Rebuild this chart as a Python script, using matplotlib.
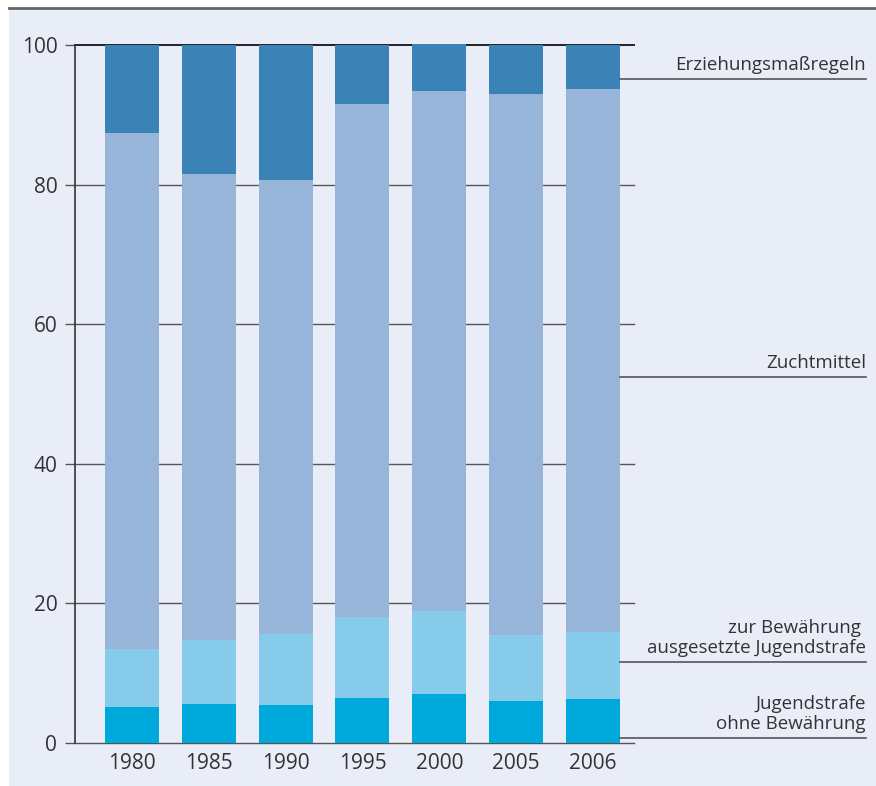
import matplotlib
matplotlib.use("Agg")
import matplotlib.pyplot as plt
from matplotlib.patches import Rectangle
from matplotlib.lines import Line2D

years = ["1980", "1985", "1990", "1995", "2000", "2005", "2006"]
ohne_bewaehrung = [5.1, 5.6, 5.4, 6.4, 7.0, 6.0, 6.3]
zur_bewaehrung = [8.4, 9.2, 10.2, 11.6, 11.9, 9.5, 9.6]
zuchtmittel = [73.9, 66.7, 65.1, 73.5, 74.5, 77.5, 77.8]
erziehung = [12.6, 18.5, 19.3, 8.5, 6.8, 7.0, 6.3]

series = [ohne_bewaehrung, zur_bewaehrung, zuchtmittel, erziehung]
colors = ["#00a9dc", "#87cbea", "#97b5d8", "#3b82b6"]
labels = ["Jugendstrafe\nohne Bewährung",
          "zur Bewährung \nausgesetzte Jugendstrafe",
          "Zuchtmittel",
          "Erziehungsmaßregeln"]
yticks = [0, 20, 40, 60, 80, 100]

W, H = 876, 786
plt.rcParams['font.family'] = ['Open Sans', 'DejaVu Sans']
fig = plt.figure(figsize=(W / 100, H / 100), dpi=100)
fig.patch.set_facecolor("white")

def fx(px):
    return px / W

def fy(py):
    return 1 - py / H

# background panel and top line
fig.patches.append(Rectangle((fx(9), 0), 1 - fx(9), fy(9), transform=fig.transFigure,
                             facecolor="#e9edf8", edgecolor="none", zorder=-10))
fig.lines.append(Line2D([fx(9), 1], [fy(8), fy(8)], transform=fig.transFigure,
                        color="#666666", linewidth=2, zorder=-5))

left, right, top, bottom = 75, 634, 45, 743
ax = fig.add_axes([fx(left), fy(bottom), fx(right) - fx(left), fy(top) - fy(bottom)])
ax.set_zorder(2)
ax.set_facecolor("none")

x = list(range(len(years)))
base = [0.0] * len(years)
for vals, c in zip(series, colors):
    ax.bar(x, vals, bottom=base, width=0.703, color=c, zorder=3, linewidth=0, clip_on=False)
    base = [b + v for b, v in zip(base, vals)]

ax.set_xlim(-0.742, 6.534)
ax.set_ylim(0, 100)
ax.set_yticks(yticks)
ax.set_yticklabels([str(t) for t in yticks], fontsize=15, color="#333333")
ax.set_xticks(x)
ax.set_xticklabels(years, fontsize=15, color="#333333")
ax.tick_params(axis="y", length=7.2, width=1, color="#555555", pad=5.5)
ax.tick_params(axis="x", length=0, pad=7)
for t in yticks:
    ax.axhline(t, color="#222222" if t == 100 else "#555555",
               linewidth=1.4 if t == 100 else 1.0, zorder=1, clip_on=False)
for s in ["top", "right", "bottom"]:
    ax.spines[s].set_visible(False)
ax.spines["left"].set_color("#333333")
ax.spines["left"].set_linewidth(1.2)
ax.spines["left"].set_zorder(4)

# right-hand labels with leader lines
label_line_y = [738, 662, 377, 79]
label_text_y = [733, 657, 372, 74]
for lab, ly, ty in zip(labels, label_line_y, label_text_y):
    fig.lines.append(Line2D([fx(620), fx(866)], [fy(ly), fy(ly)], transform=fig.transFigure,
                            color="#555555", linewidth=1.2))
    fig.text(fx(866), fy(ty), lab, ha="right", va="bottom", fontsize=13.5,
             color="#333333", linespacing=1.15, multialignment="right")

fig.savefig("out.png", dpi=100, facecolor=fig.get_facecolor())
